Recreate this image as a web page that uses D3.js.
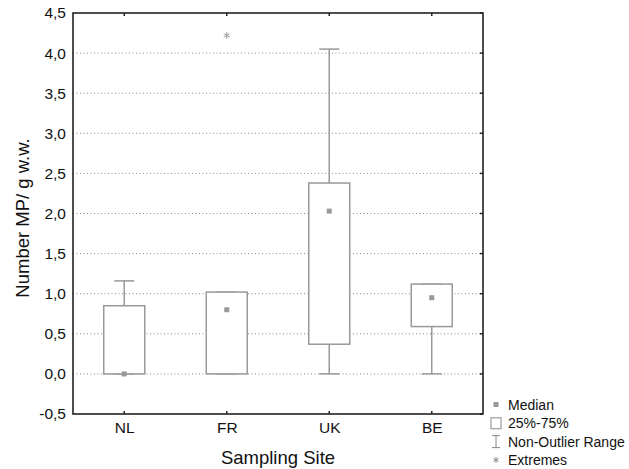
<!DOCTYPE html>
<html>
<head>
<meta charset="utf-8">
<script src="https://cdn.jsdelivr.net/npm/d3@7"></script>
<style>
  body { margin: 0; background: #fff; }
  svg text { font-family: "Liberation Sans", Arial, sans-serif; fill: #111; }
</style>
</head>
<body>
<div id="chart"></div>
<script>
// Data
var sites = ["NL", "FR", "UK", "BE"];
var q1 = [0.0, 0.0, 0.37, 0.59];
var q3 = [0.85, 1.02, 2.38, 1.12];
var medians = [0.0, 0.80, 2.03, 0.95];
var whiskerLow = [0.0, 0.0, 0.0, 0.0];
var whiskerHigh = [1.16, 1.02, 4.05, 1.12];
var extremeSite = ["FR"];
var extremeValue = [4.22];
var yTicks = [-0.5, 0, 0.5, 1, 1.5, 2, 2.5, 3, 3.5, 4, 4.5];
var legendLabels = ["Median", "25%-75%", "Non-Outlier Range", "Extremes"];

var svgWidth = 629;
var svgHeight = 469;
var margin = { top: 13, right: 146, bottom: 55, left: 73 };
var chartWidth = svgWidth - margin.left - margin.right;
var chartHeight = svgHeight - margin.top - margin.bottom;

var boxColor = "#999";

var svg = d3.select("#chart").append("svg")
  .attr("width", svgWidth)
  .attr("height", svgHeight);

var chartGroup = svg.append("g")
  .attr("transform", `translate(${margin.left}, ${margin.top})`);

var x = d3.scalePoint().domain(sites).range([0, chartWidth]).padding(0.5);
var y = d3.scaleLinear().domain([-0.5, 4.5]).range([chartHeight, 0]);

var fmt = function(d) { return d3.format(".1f")(d).replace(".", ",").replace("−", "-"); };

// asterisk path, 3 strokes
function asterisk(r) {
  var a = r * Math.cos(Math.PI / 6), b = r * Math.sin(Math.PI / 6);
  return `M0,${-r}V${r}M${-a},${-b}L${a},${b}M${-a},${b}L${a},${-b}`;
}

// gridlines (dotted)
chartGroup.append("g")
  .selectAll("line")
  .data(yTicks.filter(function(d) { return d > -0.5 && d < 4.5; }))
  .enter()
  .append("line")
  .attr("x1", 0)
  .attr("x2", chartWidth)
  .attr("y1", function(d) { return y(d); })
  .attr("y2", function(d) { return y(d); })
  .attr("stroke", "#888")
  .attr("stroke-width", 1)
  .attr("stroke-dasharray", "1,2.5");

// left axis
var leftAxis = d3.axisLeft(y).tickValues(yTicks).tickSize(0).tickPadding(7).tickFormat(fmt);
var gy = chartGroup.append("g").call(leftAxis);
gy.select(".domain").remove();
gy.selectAll("text").style("font-size", "15.5px");

// bottom axis
var bottomAxis = d3.axisBottom(x).tickSize(0).tickPadding(8);
var gx = chartGroup.append("g")
  .attr("transform", `translate(0, ${chartHeight})`)
  .call(bottomAxis);
gx.select(".domain").remove();
gx.selectAll("text").style("font-size", "15.5px");

// inward tick marks
sites.forEach(function(s) {
  chartGroup.append("line").attr("x1", x(s)).attr("x2", x(s)).attr("y1", 0).attr("y2", 3)
    .attr("stroke", "#222").attr("stroke-width", 1.5);
  chartGroup.append("line").attr("x1", x(s)).attr("x2", x(s)).attr("y1", chartHeight).attr("y2", chartHeight - 3)
    .attr("stroke", "#222").attr("stroke-width", 1.5);
});
yTicks.forEach(function(t) {
  chartGroup.append("line").attr("x1", chartWidth).attr("x2", chartWidth - 3).attr("y1", y(t)).attr("y2", y(t))
    .attr("stroke", "#222").attr("stroke-width", 1.5);
});

// frame
chartGroup.append("rect")
  .attr("x", 0).attr("y", 0)
  .attr("width", chartWidth).attr("height", chartHeight)
  .attr("fill", "none")
  .attr("stroke", "#222")
  .attr("stroke-width", 1.6);

// boxes
var boxWidth = 41;
var capWidth = 20;
var boxes = chartGroup.append("g").selectAll("g")
  .data(sites)
  .enter()
  .append("g");

boxes.each(function(s, i) {
  var g = d3.select(this);
  var cx = x(s);
  // whiskers
  if (whiskerHigh[i] > q3[i]) {
    g.append("line").attr("x1", cx).attr("x2", cx).attr("y1", y(q3[i])).attr("y2", y(whiskerHigh[i]))
      .attr("stroke", boxColor).attr("stroke-width", 1.5);
  }
  g.append("line").attr("x1", cx - capWidth / 2).attr("x2", cx + capWidth / 2)
    .attr("y1", y(whiskerHigh[i])).attr("y2", y(whiskerHigh[i]))
    .attr("stroke", boxColor).attr("stroke-width", 1.5);
  if (whiskerLow[i] < q1[i]) {
    g.append("line").attr("x1", cx).attr("x2", cx).attr("y1", y(q1[i])).attr("y2", y(whiskerLow[i]))
      .attr("stroke", boxColor).attr("stroke-width", 1.5);
  }
  g.append("line").attr("x1", cx - capWidth / 2).attr("x2", cx + capWidth / 2)
    .attr("y1", y(whiskerLow[i])).attr("y2", y(whiskerLow[i]))
    .attr("stroke", boxColor).attr("stroke-width", 1.5);
  // box
  g.append("rect")
    .attr("x", cx - boxWidth / 2)
    .attr("y", y(q3[i]))
    .attr("width", boxWidth)
    .attr("height", y(q1[i]) - y(q3[i]))
    .attr("fill", "#fff")
    .attr("stroke", boxColor)
    .attr("stroke-width", 1.5);
  // median
  g.append("rect")
    .attr("x", cx - 2.5)
    .attr("y", y(medians[i]) - 2.5)
    .attr("width", 5)
    .attr("height", 5)
    .attr("fill", boxColor);
});

// extremes
chartGroup.append("g").selectAll("path")
  .data(extremeValue)
  .enter()
  .append("path")
  .attr("transform", function(d, i) { return `translate(${x(extremeSite[i])}, ${y(d)})`; })
  .attr("d", asterisk(3.5))
  .attr("fill", "none")
  .attr("stroke", "#999")
  .attr("stroke-width", 1);

// axis titles
svg.append("text")
  .attr("transform", `translate(${margin.left + chartWidth / 2}, 464)`)
  .attr("text-anchor", "middle")
  .style("font-size", "18.5px")
  .text("Sampling Site");

svg.append("text")
  .attr("transform", `translate(29, 218) rotate(-90)`)
  .attr("text-anchor", "middle")
  .style("font-size", "18.5px")
  .text("Number MP/ g w.w.");

// legend
var legend = svg.append("g").attr("transform", "translate(496, 405)");
var rowH = 18.3;
legendLabels.forEach(function(label, i) {
  var row = legend.append("g").attr("transform", `translate(0, ${i * rowH})`);
  if (i === 0) {
    row.append("rect").attr("x", -2.5).attr("y", -3).attr("width", 5).attr("height", 5).attr("fill", boxColor);
  } else if (i === 1) {
    row.append("rect").attr("x", -5).attr("y", -5.5).attr("width", 10).attr("height", 11)
      .attr("fill", "#fff").attr("stroke", "#888").attr("stroke-width", 1);
  } else if (i === 2) {
    row.append("path").attr("d", "M-4,-6H4M0,-6V6M-4,6H4")
      .attr("fill", "none").attr("stroke", "#888").attr("stroke-width", 1);
  } else {
    row.append("path").attr("d", asterisk(3)).attr("fill", "none")
      .attr("stroke", "#888").attr("stroke-width", 1);
  }
  row.append("text")
    .attr("x", 12)
    .attr("y", 5)
    .style("font-size", "14px")
    .text(label);
});
</script>
</body>
</html>
